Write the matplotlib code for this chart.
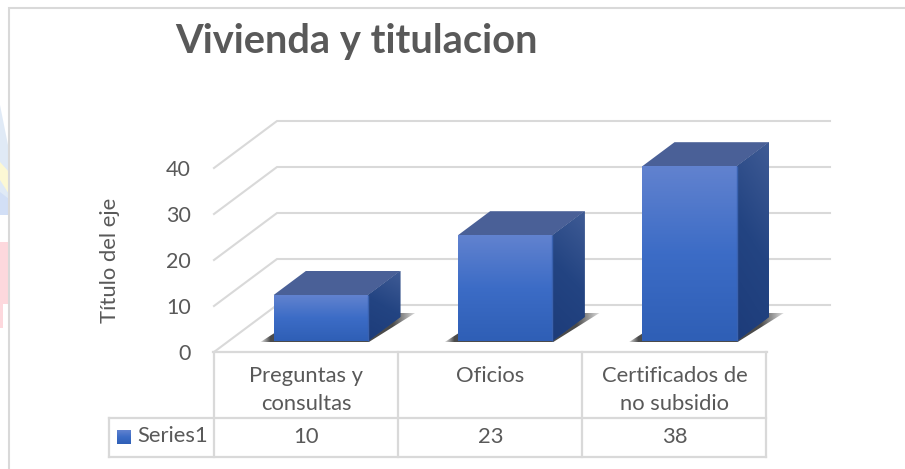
import numpy as np
import matplotlib
matplotlib.use("Agg")
import matplotlib.pyplot as plt
from matplotlib.colors import LinearSegmentedColormap, to_rgb
from matplotlib.patches import Polygon, Rectangle
from matplotlib.transforms import blended_transform_factory

# ---- data ----
title = "Vivienda y titulacion"
categories = ["Preguntas y\nconsultas", "Oficios", "Certificados de\nno subsidio"]
series_name = "Series1"
values = [10, 23, 38]
y_ticks = [0, 10, 20, 30, 40]
y_label = "Título del eje"

# ---- layout (pixels) ----
W, H = 905, 469
X0, X1 = 214, 767      # front plane of the chart
Y0, Y40 = 352, 168     # pixel rows of values 0 and 40
DEPTH_PX = (63, 47)    # floor depth offset
GRID = "#d9d9d9"
TEXT = "#595959"
FONT = "Lato"
FS = 15.8

plt.rcParams["font.family"] = [FONT, "DejaVu Sans"]
fig = plt.figure(figsize=(W / 100, H / 100), dpi=100, facecolor="white")

# overlay in pixel coordinates: frame, table, background scraps, title
ov = fig.add_axes([0, 0, 1, 1], zorder=1)
ov.set_xlim(0, W)
ov.set_ylim(H, 0)
ov.axis("off")

# faint watermark remains at the left edge
ov.add_patch(Polygon([(0, 105), (9, 150), (9, 215), (0, 215)], fc="#e0eaf6", ec="none"))
ov.add_patch(Polygon([(0, 162), (9, 172), (9, 194), (0, 180)], fc="#fcf8d4", ec="none"))
ov.add_patch(Polygon([(0, 192), (9, 199), (9, 215), (0, 215)], fc="#d2dff6", ec="none"))
ov.add_patch(Rectangle((0, 242), 9, 62, fc="#fdd8dd", ec="none"))
ov.add_patch(Rectangle((0, 304), 3, 24, fc="#fdd8dd", ec="none"))

# chart frame
ov.plot([9, 9, W], [H, 8, 8], color=GRID, lw=1.5, solid_joinstyle="miter")

# data table
for x in (213.5, 398, 582, 766):
    ov.plot([x, x], [352, 457], color=GRID, lw=1.6)
ov.plot([109, 109], [418, 457], color=GRID, lw=1.6)
ov.plot([109, 766], [418, 418], color=GRID, lw=1.6)
ov.plot([109, 766], [457, 457], color=GRID, lw=1.6)
ov.plot([213, 767], [352, 352], color=GRID, lw=1.6)

ov.text(175, 53.5, title, fontsize=28.7, fontweight="bold", color=TEXT, ha="left", va="baseline")
ov.text(137, 436, series_name, fontsize=FS, color=TEXT, ha="left", va="center")

# legend key
blue_front = LinearSegmentedColormap.from_list("front", ["#2f5fb6", "#3c6cc6", "#6182cf"])
grad = np.linspace(1, 0, 64).reshape(-1, 1)
ov.imshow(grad, extent=(117, 131, 444, 430), cmap=blue_front, aspect="auto", vmin=0, vmax=1)
ov.set_xlim(0, W)
ov.set_ylim(H, 0)

# main axes: data -> pixels through its own scales
ax = fig.add_axes([X0 / W, 1 - Y0 / H, (X1 - X0) / W, (Y0 - Y40) / H], zorder=2)
ax.patch.set_alpha(0)
for s in ax.spines.values():
    s.set_visible(False)
n = len(categories)
xs = np.arange(n)
XMIN, XMAX, YMIN, YMAX = -0.5, n - 0.5, 0, 40
unit_x = (X1 - X0) / n
unit_y = (Y0 - Y40) / (YMAX - YMIN)
DX = DEPTH_PX[0] / unit_x
DY = DEPTH_PX[1] / unit_y


def proj(x, v, d):
    return (x + d * DX, v + d * DY)


def clipped_image(arr, pts, z, under=None, **kw):
    poly = Polygon(pts, closed=True, transform=ax.transData, fc=under or "none", ec="none",
                   zorder=z, clip_on=False)
    ax.add_patch(poly)
    p = np.array(pts)
    im = ax.imshow(arr, extent=(p[:, 0].min(), p[:, 0].max(), p[:, 1].min(), p[:, 1].max()),
                   aspect="auto", origin="upper", zorder=z + 0.1, interpolation="bilinear", **kw)
    im.set_clip_box(fig.bbox)
    im.set_clip_path(poly)
    return im


# gridlines: left wall diagonals and back wall
for t in y_ticks:
    a = proj(XMIN, t, 0)
    b = proj(XMIN, t, 1)
    c = proj(XMAX, t, 1)
    ax.plot([a[0], b[0], c[0]], [a[1], b[1], c[1]], color=GRID, lw=1.5,
            clip_on=False, zorder=1, solid_joinstyle="round")

BAR_W = 94.5 / unit_x
D_FRONT, D_BACK = 11 / 47, 35 / 47
side_cmap = LinearSegmentedColormap.from_list("side", ["#1d3c7a", "#234482", "#3f5b95"])
dark = np.array(to_rgb("#2a2a2a"))

for x, v in zip(xs, values):
    l, r = x - BAR_W / 2, x + BAR_W / 2
    # floor shadow
    y_base = -1.5 / unit_y + D_FRONT * DY
    y_tip = 28 / unit_y + D_FRONT * DY
    sh = [(l - 14 / unit_x + D_FRONT * DX, y_base), (r + D_FRONT * DX, y_base),
          (r + 47 / unit_x + D_FRONT * DX, y_tip), (l + 32 / unit_x + D_FRONT * DX, y_tip)]
    p = np.array(sh)
    u = np.linspace(p[:, 0].min(), p[:, 0].max(), 200)
    lf = proj(l, 0, D_FRONT)[0]
    rt = proj(r, 0, D_FRONT)[0]
    alpha = np.interp(u, [lf - 14 / unit_x, lf - 4 / unit_x, rt + 24 / unit_x, rt + 47 / unit_x],
                      [0.1, 0.85, 0.85, 0.15])
    rgba = np.zeros((2, u.size, 4))
    rgba[..., :3] = dark
    rgba[..., 3] = alpha
    clipped_image(rgba, sh, 2)

    # right side with diagonal gradient
    side = [proj(r, 0, D_FRONT), proj(r, 0, D_BACK), proj(r, v, D_BACK), proj(r, v, D_FRONT)]
    g = np.linspace(1, 0, 64)[:, None] * 0.8 + np.linspace(0, 1, 16)[None, :] * 0.2
    clipped_image(g, side, 3, under="#27467f", cmap=side_cmap, vmin=0, vmax=1)

    # top
    ax.add_patch(Polygon([proj(l, v, D_FRONT), proj(r, v, D_FRONT), proj(r, v, D_BACK), proj(l, v, D_BACK)],
                         fc="#4a6097", ec="none", zorder=3, clip_on=False))
    # front with vertical gradient
    front = [proj(l, 0, D_FRONT), proj(r, 0, D_FRONT), proj(r, v, D_FRONT), proj(l, v, D_FRONT)]
    g = np.linspace(1, 0, 64)[:, None]
    clipped_image(g, front, 4, under="#3c6cc6", cmap=blue_front, vmin=0, vmax=1)
    # front/side edge
    e0, e1 = proj(r, 0, D_FRONT), proj(r, v, D_FRONT)
    ax.plot([e0[0], e1[0]], [e0[1], e1[1]], color="#3a62b0", lw=1.0, zorder=5,
            clip_on=False, solid_capstyle="butt")

ax.set_xlim(XMIN, XMAX)
ax.set_ylim(YMIN, YMAX)
ax.set_yticks(y_ticks)
ax.set_xticks([])
ax.tick_params(axis="y", length=0, pad=16.5, labelsize=15.5, labelcolor=TEXT)
ax.set_ylabel(y_label, fontsize=FS, color=TEXT, labelpad=33)

# table texts: columns follow the category positions of the axes, rows are in pixels
cell = blended_transform_factory(ax.transData, ov.transData)
for x, cat, v in zip(xs, categories, values):
    multi = "\n" in cat
    ax.text(x, 390 if multi else 376, cat, transform=cell, ha="center", va="center",
            fontsize=FS, color=TEXT, linespacing=1.5, clip_on=False)
    ax.text(x, 437, str(v), transform=cell, ha="center", va="center",
            fontsize=FS, color=TEXT, clip_on=False)

fig.savefig("out.png", dpi=100)
